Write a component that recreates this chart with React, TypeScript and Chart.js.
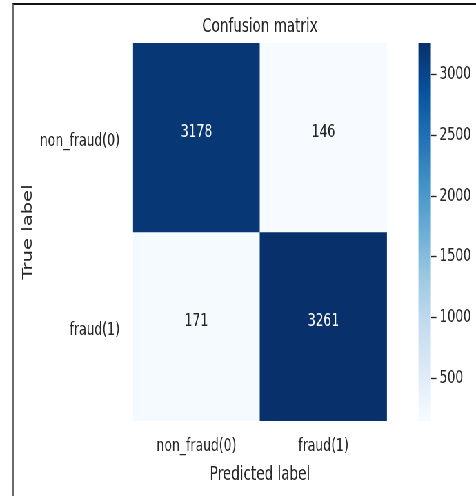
import React, { useEffect, useRef } from "react";
import { Chart, registerables } from "chart.js";

Chart.register(...registerables);

// Confusion matrix counts (rows = true label, columns = predicted label)
const predictedLabels = ["non_fraud(0)", "fraud(1)"];
const trueLabels = ["non_fraud(0)", "fraud(1)"];
const rowNonFraud = [3178, 146];
const rowFraud = [171, 3261];
const matrix = [rowNonFraud, rowFraud];
const colorbarTicks = [500, 1000, 1500, 2000, 2500, 3000];

const chartTitle = "Confusion matrix";
const xTitle = "Predicted label";
const yTitle = "True label";

// matplotlib "Blues" colormap anchors
const BLUES = [
  "#f7fbff", "#deebf7", "#c6dbef", "#9ecae1", "#6baed6",
  "#4292c6", "#2171b5", "#08519c", "#08306b",
];

const allValues = matrix.flat();
const vmin = Math.min(...allValues);
const vmax = Math.max(...allValues);

// The figure is laid out on a wide canvas and narrowed with a CSS scale.
const OUT_W = 476;
const FIG_W = 690;
const FIG_H = 496;
const SQUASH = OUT_W / FIG_W;

const FONT = '"DejaVu Sans", "Liberation Sans", sans-serif';
const TEXT = "#262626";
const TICK_SIZE = 18;
const LABEL_SIZE = 19.6;

function hexToRgb(h: string): [number, number, number] {
  const n = parseInt(h.slice(1), 16);
  return [(n >> 16) & 255, (n >> 8) & 255, n & 255];
}

function blues(t: number): [number, number, number] {
  const x = Math.min(1, Math.max(0, t)) * (BLUES.length - 1);
  const i = Math.min(BLUES.length - 2, Math.floor(x));
  const f = x - i;
  const a = hexToRgb(BLUES[i]);
  const b = hexToRgb(BLUES[i + 1]);
  return [0, 1, 2].map((k) => Math.round(a[k] + (b[k] - a[k]) * f)) as [number, number, number];
}

function cellRgb(v: number) {
  return blues((v - vmin) / (vmax - vmin));
}

function rgbCss(c: [number, number, number]) {
  return `rgb(${c[0]},${c[1]},${c[2]})`;
}

function luminance(c: [number, number, number]) {
  const lin = c.map((u) => {
    const s = u / 255;
    return s <= 0.03928 ? s / 12.92 : Math.pow((s + 0.055) / 1.055, 2.4);
  });
  return 0.2126 * lin[0] + 0.7152 * lin[1] + 0.0722 * lin[2];
}

// Writes each count in the middle of its cell
const cellText = {
  id: "cellText",
  afterDatasetsDraw(chart: any) {
    const ctx = chart.ctx as CanvasRenderingContext2D;
    ctx.save();
    ctx.font = `${TICK_SIZE}px ${FONT}`;
    ctx.textAlign = "center";
    ctx.textBaseline = "middle";
    matrix.forEach((row, r) => {
      const meta = chart.getDatasetMeta(r);
      row.forEach((v, c) => {
        const el: any = meta.data[c];
        const cy = (el.y + el.base) / 2 - 5;
        ctx.fillStyle = luminance(cellRgb(v)) > 0.408 ? TEXT : "#ffffff";
        ctx.fillText(String(v), el.x, cy);
      });
    });
    ctx.restore();
  },
};

export default function App() {
  const heatRef = useRef<HTMLCanvasElement>(null);
  const barRef = useRef<HTMLCanvasElement>(null);

  useEffect(() => {
    const tickFont = { family: FONT, size: TICK_SIZE };
    const labelFont = { family: FONT, size: LABEL_SIZE };

    const heat = new Chart(heatRef.current!, {
      type: "bar",
      data: {
        labels: predictedLabels,
        datasets: matrix.map((row, r) => ({
          label: trueLabels[r],
          data: row.map(() => [r, r + 1]),
          backgroundColor: row.map((v) => rgbCss(cellRgb(v))),
          borderWidth: 0,
          categoryPercentage: 1,
          barPercentage: 1,
          grouped: false,
        })),
      } as any,
      options: {
        responsive: false,
        animation: false,
        devicePixelRatio: 1,
        layout: { padding: { left: 25, top: 0, right: FIG_W - 560.9, bottom: 5.2 } },
        plugins: {
          legend: { display: false },
          tooltip: { enabled: false },
          title: {
            display: true,
            text: chartTitle,
            fullSize: false,
            color: TEXT,
            font: { ...labelFont, weight: "normal" },
            padding: { top: 14.7, bottom: 4.8 },
          },
        },
        scales: {
          x: {
            type: "category",
            position: "bottom",
            grid: { display: false, drawTicks: false },
            border: { display: false },
            ticks: { font: tickFont, color: TEXT, padding: 15, maxRotation: 0 },
            title: { display: true, text: xTitle, font: labelFont, color: TEXT, padding: { top: 4, bottom: 4 } },
            afterFit: (s: any) => {
              s.height = FIG_H - 5.2 - 421;
            },
          },
          y: {
            type: "linear",
            min: 0,
            max: trueLabels.length,
            reverse: true,
            afterBuildTicks: (s: any) => {
              s.ticks = trueLabels.map((_, i) => ({ value: i + 0.5 }));
            },
            grid: { display: false, drawTicks: false },
            border: { display: false },
            ticks: {
              font: tickFont,
              color: TEXT,
              padding: 19,
              labelOffset: 3.5,
              callback: (_v: any, i: number) => trueLabels[i],
            },
            title: { display: true, text: yTitle, font: labelFont, color: TEXT, padding: { top: 4, bottom: 4 } },
            afterFit: (s: any) => {
              s.width = 192.75 - 25;
            },
          },
        },
      } as any,
      plugins: [cellText],
    });

    const bar = new Chart(barRef.current!, {
      type: "bar",
      data: {
        labels: ["colorbar"],
        datasets: [
          {
            data: [[vmin, vmax]],
            borderWidth: 0,
            categoryPercentage: 1,
            barPercentage: 1,
            backgroundColor: (c: any) => {
              const chart = c.chart;
              const ys = chart.scales?.y;
              if (!chart.chartArea || !ys) return BLUES[4];
              const g = chart.ctx.createLinearGradient(0, ys.getPixelForValue(vmin), 0, ys.getPixelForValue(vmax));
              BLUES.forEach((col, i) => g.addColorStop(i / (BLUES.length - 1), col));
              return g;
            },
          },
        ],
      } as any,
      options: {
        responsive: false,
        animation: false,
        devicePixelRatio: 1,
        layout: { padding: { left: 606.5, top: 43, bottom: FIG_H - 421, right: 0 } },
        plugins: {
          legend: { display: false },
          tooltip: { enabled: false },
          title: { display: false },
        },
        scales: {
          x: { display: false },
          y: {
            type: "linear",
            position: "right",
            min: vmin,
            max: vmax,
            afterBuildTicks: (s: any) => {
              s.ticks = colorbarTicks.map((v) => ({ value: v }));
            },
            grid: {
              display: true,
              drawOnChartArea: false,
              drawTicks: true,
              tickLength: 8,
              tickColor: TEXT,
              tickWidth: 1.4,
              color: TEXT,
            },
            border: { display: false },
            ticks: {
              font: tickFont,
              color: TEXT,
              padding: 4.5,
              callback: (v: any) => String(v),
            },
            afterFit: (s: any) => {
              s.width = FIG_W - 624.6;
            },
          },
        },
      } as any,
    });

    return () => {
      heat.destroy();
      bar.destroy();
    };
  }, []);

  const canvasStyle: React.CSSProperties = {
    position: "absolute",
    left: 0,
    top: 0,
    width: FIG_W,
    height: FIG_H,
  };

  return (
    <div
      style={{
        position: "fixed",
        left: 0,
        top: 0,
        width: OUT_W,
        height: FIG_H,
        background: "#ffffff",
        overflow: "hidden",
      }}
    >
      <div
        style={{
          position: "absolute",
          left: 0,
          top: 0,
          width: FIG_W,
          height: FIG_H,
          transform: `scaleX(${SQUASH})`,
          transformOrigin: "0 0",
        }}
      >
        <canvas ref={heatRef} width={FIG_W} height={FIG_H} style={canvasStyle} />
        <canvas ref={barRef} width={FIG_W} height={FIG_H} style={canvasStyle} />
      </div>
      <div
        style={{
          position: "absolute",
          left: 12,
          top: 3,
          width: OUT_W,
          height: FIG_H,
          borderTop: "2px solid #111111",
          borderLeft: "2px solid #6a6a6a",
          pointerEvents: "none",
        }}
      />
    </div>
  );
}
